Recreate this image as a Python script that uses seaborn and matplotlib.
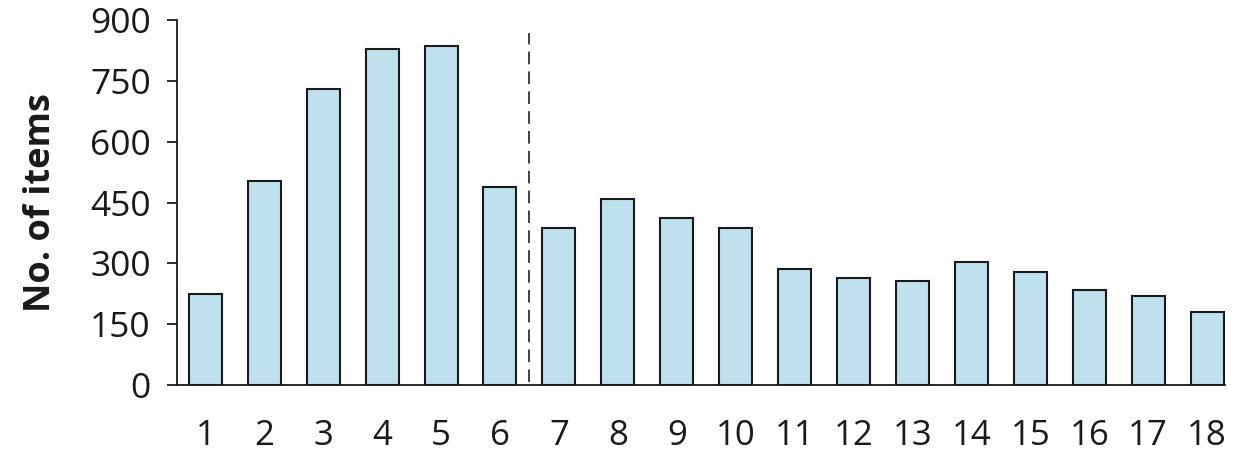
import matplotlib
matplotlib.use('Agg')
import matplotlib.pyplot as plt
import seaborn as sns
import pandas as pd

# --- Data ---
categories = [str(i) for i in range(1, 19)]
counts = [224, 503, 730, 830, 838, 488, 387, 458, 411, 388,
          287, 264, 256, 303, 280, 234, 219, 179]
y_ticks = [0, 150, 300, 450, 600, 750, 900]
split_after = 6          # dashed separator between bar 6 and bar 7
split_top = 870

df = pd.DataFrame({'group': categories, 'items': counts})

sns.set_theme(style='white')
plt.rcParams['font.family'] = ['Open Sans', 'DejaVu Sans']

fig = plt.figure(figsize=(12.34, 4.55), dpi=100)
ax = fig.add_axes([0.1435, 0.154, 0.849, 0.801])

sns.barplot(data=df, x='group', y='items', color='#bfe1ee',
            edgecolor='#1a1a1a', linewidth=1.5, width=0.56,
            saturation=1, ax=ax)

# dashed divider
ax.vlines(split_after - 0.5, 8, split_top, colors='#333333',
          linestyles=(0, (7, 4)), linewidth=1.3)

ax.set_ylim(0, 900)
ax.set_xlim(-0.48, len(categories) - 0.7)
ax.set_yticks(y_ticks)
ax.set_yticklabels([str(t) for t in y_ticks], fontsize=25.5, color='#1a1a1a')
ax.set_xticks(range(len(categories)))
ax.set_xticklabels(categories, fontsize=25, color='#1a1a1a')

ax.tick_params(axis='y', direction='out', length=7, width=1.3,
               color='#1a1a1a', pad=12, left=True)
ax.tick_params(axis='x', length=0, pad=24.5)

ax.set_xlabel('')
ax.set_ylabel('No. of items', fontsize=26, fontweight='bold',
              color='#1a1a1a', labelpad=22)

sns.despine(ax=ax, top=True, right=True)
for side in ['left', 'bottom']:
    ax.spines[side].set_color('#1a1a1a')
    ax.spines[side].set_linewidth(1.3)

fig.savefig('out.png', dpi=100)
plt.close(fig)
